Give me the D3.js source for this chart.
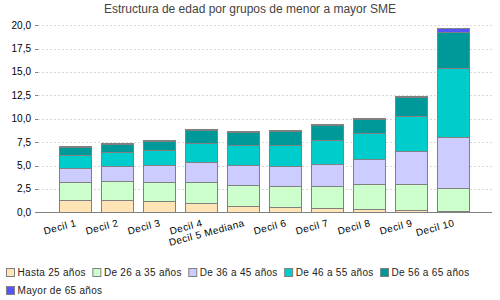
<!DOCTYPE html>
<html>
<head>
<meta charset="utf-8">
<script src="https://cdn.jsdelivr.net/npm/d3@7"></script>
<style>
body { margin: 0; background: #fff; }
svg { font-family: "Liberation Sans", Arial, sans-serif; }
</style>
</head>
<body>
<svg id="viz"></svg>
<script>
var width = 500;
var height = 300;

var categories = ["Decil 1", "Decil 2", "Decil 3", "Decil 4", "Decil 5 Mediana",
                  "Decil 6", "Decil 7", "Decil 8", "Decil 9", "Decil 10"];
var seriesNames = ["Hasta 25 años", "De 26 a 35 años", "De 36 a 45 años",
                   "De 46 a 55 años", "De 56 a 65 años", "Mayor de 65 años"];
var seriesColors = ["#ffe4b5", "#ccffcc", "#ccccff", "#00cccc", "#009999", "#5555ff"];

var hasta25  = [1.28, 1.28, 1.18, 0.96, 0.71, 0.60, 0.46, 0.32, 0.21, 0.14];
var de26a35  = [1.96, 2.03, 2.06, 2.25, 2.17, 2.18, 2.32, 2.67, 2.78, 2.42];
var de36a45  = [1.49, 1.60, 1.78, 2.13, 2.14, 2.13, 2.35, 2.67, 3.53, 5.45];
var de46a55  = [1.39, 1.50, 1.60, 2.10, 2.20, 2.25, 2.63, 2.78, 3.74, 7.37];
var de56a65  = [0.85, 0.88, 0.98, 1.32, 1.40, 1.49, 1.56, 1.50, 2.08, 3.92];
var mayor65  = [0.10, 0.10, 0.10, 0.10, 0.04, 0.10, 0.10, 0.10, 0.10, 0.35];

var yTicks = [0, 2.5, 5, 7.5, 10, 12.5, 15, 17.5, 20];

var allSeries = [hasta25, de26a35, de36a45, de46a55, de56a65, mayor65];

// rows for d3.stack
var rows = categories.map(function(c, i) {
    var r = {cat: c};
    seriesNames.forEach(function(s, j) { r[s] = allSeries[j][i]; });
    return r;
});

var svg = d3.select("#viz").attr("width", width).attr("height", height);

var x = d3.scaleBand()
    .domain(categories)
    .range([54, 474])
    .paddingInner(0.238)
    .paddingOuter(0.119);

var y = d3.scaleLinear().domain([0, 20]).range([212.3, 25.1]);

var fmt = function(d) { return d3.format(".1f")(d).replace(".", ","); };

// title
svg.append("text")
    .attr("x", 250)
    .attr("y", 13)
    .attr("text-anchor", "middle")
    .style("font-size", "12px")
    .style("fill", "#444")
    .text("Estructura de edad por grupos de menor a mayor SME");

// gridlines
svg.append("g").selectAll("line")
    .data(yTicks.filter(function(d) { return d > 0; }))
    .enter().append("line")
    .attr("x1", 38).attr("x2", 492)
    .attr("y1", function(d) { return Math.round(y(d)) + 0.5; })
    .attr("y2", function(d) { return Math.round(y(d)) + 0.5; })
    .style("stroke", "#d8d8d8")
    .style("stroke-dasharray", "2,2");

// y axis ticks + labels
var yAxis = svg.append("g");
yAxis.selectAll("line")
    .data(yTicks).enter().append("line")
    .attr("x1", 35).attr("x2", 38)
    .attr("y1", function(d) { return Math.round(y(d)) + 0.5; })
    .attr("y2", function(d) { return Math.round(y(d)) + 0.5; })
    .style("stroke", "#808080");
yAxis.selectAll("text")
    .data(yTicks).enter().append("text")
    .attr("x", 31)
    .attr("y", function(d) { return y(d) + 3.5; })
    .attr("text-anchor", "end")
    .style("font-size", "10px")
    .style("fill", "#000")
    .text(fmt);

// bars
var stack = d3.stack().keys(seriesNames);
var layers = stack(rows);

svg.append("g").selectAll("g")
    .data(layers)
    .enter().append("g")
    .attr("fill", function(d, i) { return seriesColors[i]; })
    .selectAll("rect")
    .data(function(d) { return d; })
    .enter().append("rect")
    .attr("x", function(d) { return Math.round(x(d.data.cat)) + 0.5; })
    .attr("width", Math.round(x.bandwidth()))
    .attr("y", function(d) { return Math.round(y(d[1])) + 0.5; })
    .attr("height", function(d) { return Math.round(y(d[0])) - Math.round(y(d[1])); })
    .style("stroke", "#808080")
    .style("stroke-width", 1);

// x axis line
svg.append("line")
    .attr("x1", 35).attr("x2", 492)
    .attr("y1", Math.round(y(0)) + 0.5).attr("y2", Math.round(y(0)) + 0.5)
    .style("stroke", "#808080");

// category labels
svg.append("g").selectAll("text")
    .data(categories).enter().append("text")
    .attr("transform", function(d) {
        return "translate(" + (x(d) + x.bandwidth() / 2 + 2) + ",226) rotate(-15)";
    })
    .attr("text-anchor", "end")
    .style("font-size", "10px")
    .style("letter-spacing", "0.4px")
    .style("fill", "#000")
    .text(function(d) { return d; });

// legend, flowing in rows
var legend = svg.append("g");
var lx = 6, ly = 268;
seriesNames.forEach(function(s, i) {
    var g = legend.append("g");
    var t = g.append("text")
        .attr("y", 7.5)
        .attr("x", 11.5)
        .style("font-size", "10px")
        .style("letter-spacing", "0.3px")
        .style("fill", "#222")
        .text(s);
    var w = 11.5 + t.node().getComputedTextLength();
    if (lx + w > 494) { lx = 6; ly += 18; }
    g.attr("transform", "translate(" + lx + "," + ly + ")");
    g.append("rect")
        .attr("x", 0.5).attr("y", 0.5)
        .attr("width", 8).attr("height", 8)
        .attr("fill", seriesColors[i])
        .style("stroke", "#808080");
    lx += w + 6.5;
});
</script>
</body>
</html>
